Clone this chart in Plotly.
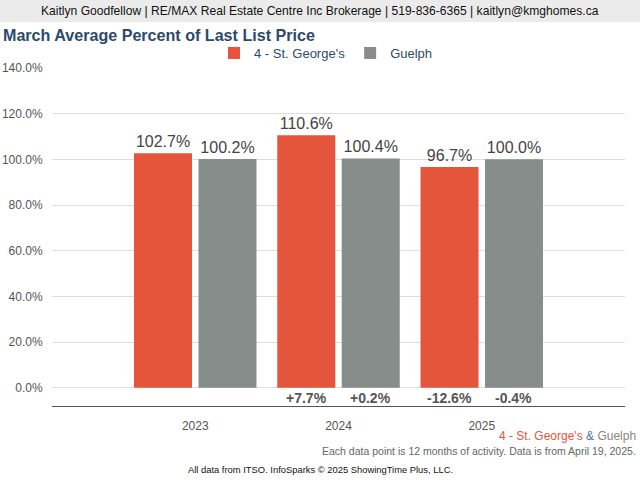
import plotly.graph_objects as go

years = ["2023", "2024", "2025"]
st_george = [102.7, 110.6, 96.7]
guelph = [100.2, 100.4, 100.0]
series_names = ["4 - St. George's", "Guelph"]
red = "#e5553c"
gray = "#868d8a"

def changes(vals):
    out = [None]
    for a, b in zip(vals[:-1], vals[1:]):
        out.append((b / a - 1) * 100)
    return out

st_chg = changes(st_george)
gu_chg = changes(guelph)

FONT = "Liberation Sans, Arial, sans-serif"
L, R, T, B = 52, 15, 68, 74
W, H = 640, 480
pw, ph = W - L - R, H - T - B

def px(x):
    return (x - L) / pw

def py(y):
    return (H - B - y) / ph

fig = go.Figure()
for name, vals, col in [(series_names[0], st_george, red), (series_names[1], guelph, gray)]:
    fig.add_trace(go.Bar(
        x=years, y=vals, name=name, marker_color=col, marker_line_width=0,
        texttemplate="%{y:.1f}%", textposition="outside",
        textfont=dict(size=16, color="#444", family=FONT),
        cliponaxis=False, hoverinfo="skip",
    ))

ann = []
for i, yr in enumerate(years):
    for chg, shift in [(st_chg[i], -32), (gu_chg[i], 32)]:
        if chg is None:
            continue
        ann.append(dict(x=i, y=-4.4, xref="x", yref="y", xshift=shift,
                        text=f"<b>{chg:+.1f}%</b>", showarrow=False,
                        font=dict(size=14, color="#555", family=FONT)))

ann.append(dict(x=px(320), y=py(11), xref="paper", yref="paper",
                text="Kaitlyn Goodfellow | RE/MAX Real Estate Centre Inc Brokerage | 519-836-6365 | kaitlyn@kmghomes.ca",
                showarrow=False, xanchor="center", yanchor="middle",
                font=dict(size=12.1, color="#111", family=FONT)))
ann.append(dict(x=px(1), y=py(35), xref="paper", yref="paper",
                text="<b>March Average Percent of Last List Price</b>",
                showarrow=False, xanchor="left", yanchor="middle",
                font=dict(size=16.1, color="#2d4a6b", family=FONT)))
ann.append(dict(x=px(638), y=py(436), xref="paper", yref="paper",
                text=f"<span style='color:{red}'>{series_names[0]}</span> <span style='color:#4a6fa5'>&amp;</span> <span style='color:#888'>{series_names[1]}</span>",
                showarrow=False, xanchor="right", yanchor="middle",
                font=dict(size=12, family=FONT)))
ann.append(dict(x=px(638), y=py(451), xref="paper", yref="paper",
                text="Each data point is 12 months of activity. Data is from April 19, 2025.",
                showarrow=False, xanchor="right", yanchor="middle",
                font=dict(size=10.5, color="#666", family=FONT)))
ann.append(dict(x=px(320), y=py(469), xref="paper", yref="paper",
                text="All data from ITSO. InfoSparks © 2025 ShowingTime Plus, LLC.",
                showarrow=False, xanchor="center", yanchor="middle",
                font=dict(size=9.4, color="#111", family=FONT)))

fig.update_layout(
    width=W, height=H, margin=dict(l=L, r=R, t=T, b=B, autoexpand=False),
    paper_bgcolor="white", plot_bgcolor="white",
    barmode="group", bargap=0.1, bargroupgap=0.1,
    font=dict(family=FONT),
    showlegend=True,
    legend=dict(orientation="h", x=px(326), y=py(53), xanchor="center", yanchor="middle",
                font=dict(size=13, color="#2d4a6b", family=FONT),
                itemclick=False, traceorder="normal", itemwidth=30),
    annotations=ann,
    shapes=[dict(type="rect", xref="paper", yref="paper",
                 x0=px(0), x1=px(W), y0=py(22), y1=py(0),
                 fillcolor="#ebebeb", line_width=0, layer="below")],
    xaxis=dict(type="category", range=[-1, 3], showgrid=False, showline=True, linecolor="#555", linewidth=1,
               ticks="outside", ticklen=9, tickcolor="rgba(0,0,0,0)", automargin=False,
               tickfont=dict(size=12, color="#555", family=FONT), fixedrange=True),
    yaxis=dict(range=[-8, 140], tickvals=[0, 20, 40, 60, 80, 100, 120, 140],
               ticktext=[f"{v:.1f}%" for v in [0, 20, 40, 60, 80, 100, 120, 140]],
               showgrid=True, gridcolor="#dddddd", gridwidth=1, zeroline=False, automargin=False,
               tickfont=dict(size=12, color="#555", family=FONT),
               ticks="outside", ticklen=6, tickcolor="rgba(0,0,0,0)", fixedrange=True),
)

fig.write_html("out.html", config={"displayModeBar": False},
               post_script="document.body.style.margin='0';document.body.style.padding='0';")
